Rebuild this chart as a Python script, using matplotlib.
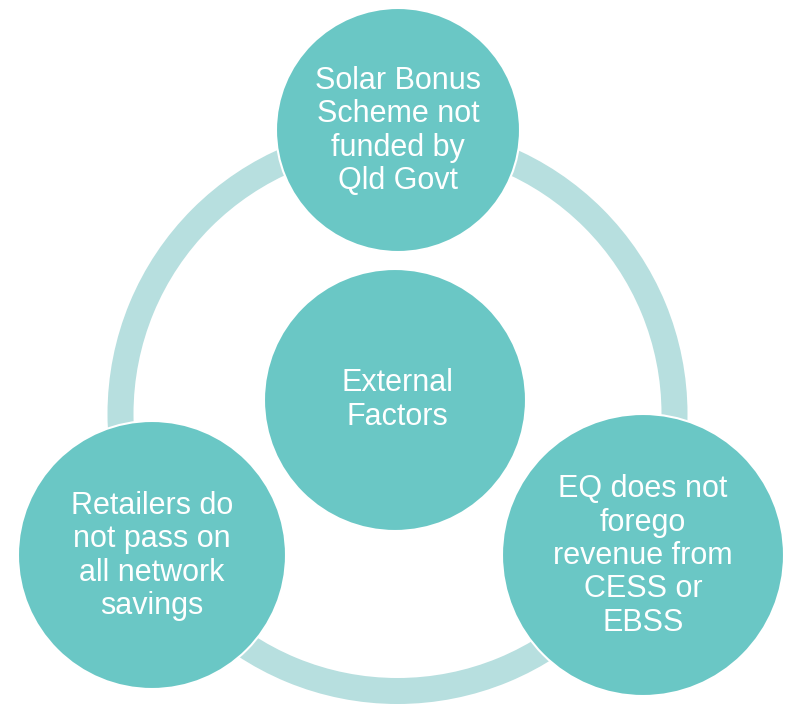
import matplotlib
matplotlib.use("Agg")
import matplotlib.pyplot as plt
from matplotlib.patches import Circle, Wedge

# ---- content ----
center_label = "External\nFactors"
outer_labels = [
    "Solar Bonus\nScheme not\nfunded by\nQld Govt",
    "Retailers do\nnot pass on\nall network\nsavings",
    "EQ does not\nforego\nrevenue from\nCESS or\nEBSS",
]

# ---- layout (pixel coordinates, y downward) ----
W, H = 793, 705
ring_center = (397.5, 414)
ring_outer, ring_width = 290, 26
center_node = (395, 400, 131)
outer_nodes = [(398, 130, 122), (152, 555, 134), (643, 555, 141)]

circle_color = "#6AC7C5"
ring_color = "#B7DFDF"

plt.rcParams["font.family"] = ["Liberation Sans", "DejaVu Sans"]

fig = plt.figure(figsize=(W / 100, H / 100), dpi=100)
ax = fig.add_axes([0, 0, 1, 1])
ax.set_xlim(0, W)
ax.set_ylim(H, 0)
ax.set_aspect("equal")
ax.axis("off")

ax.add_patch(Wedge(ring_center, ring_outer, 0, 360, width=ring_width,
                   facecolor=ring_color, edgecolor="none", zorder=1))

cx, cy, cr = center_node
ax.add_patch(Circle((cx, cy), cr, facecolor=circle_color,
                    edgecolor="white", linewidth=1.5, zorder=2))
ax.text(cx + 2, cy, center_label, ha="center", va="center", color="white",
        fontsize=22, linespacing=1.15, zorder=3)

for (x, y, r), lab in zip(outer_nodes, outer_labels):
    ax.add_patch(Circle((x, y), r, facecolor=circle_color,
                        edgecolor="white", linewidth=1.5, zorder=2))
    ax.text(x, y + 1, lab, ha="center", va="center", color="white",
            fontsize=22, linespacing=1.15, zorder=3)

fig.savefig("out.png", dpi=100, facecolor="white")
